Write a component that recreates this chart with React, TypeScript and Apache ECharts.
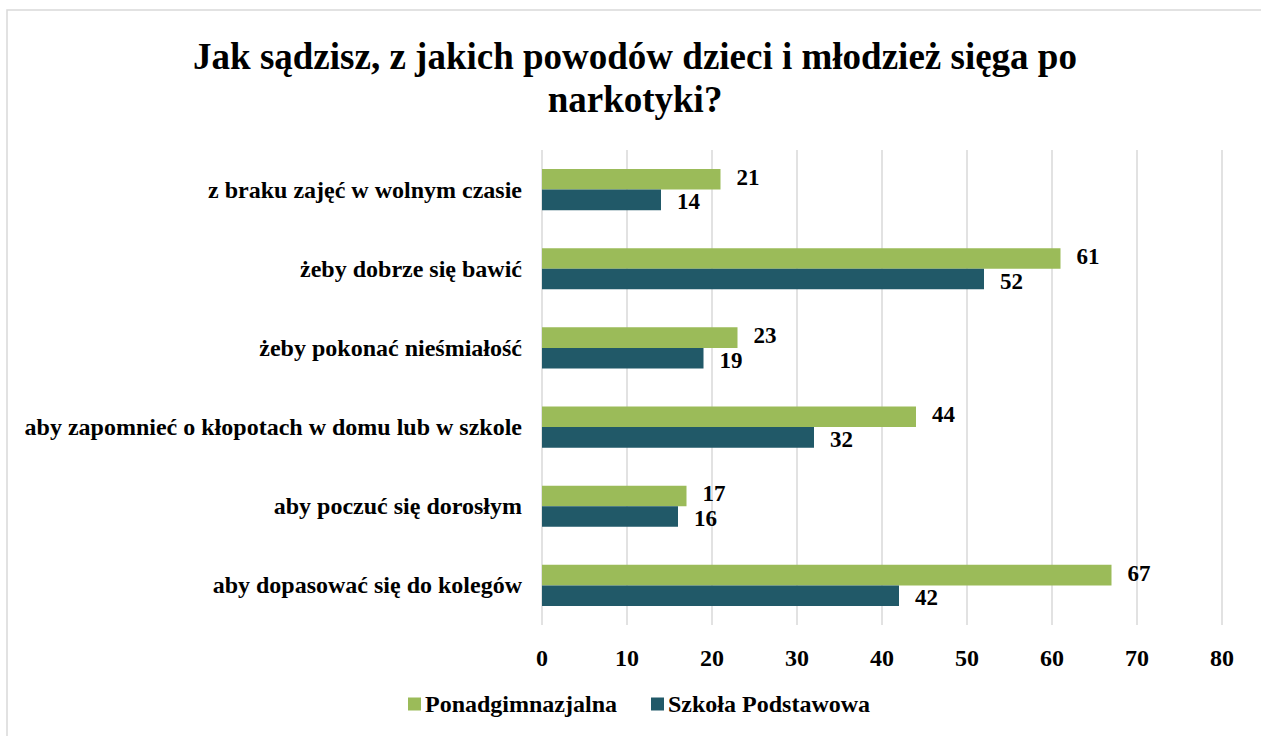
import React, { useEffect, useRef } from "react";
import * as echarts from "echarts";

const categories = [
  "z braku zajęć w wolnym czasie",
  "żeby dobrze się bawić",
  "żeby pokonać nieśmiałość",
  "aby zapomnieć o kłopotach w domu lub w szkole",
  "aby poczuć się dorosłym",
  "aby dopasować się do kolegów",
];
const ponadgimnazjalna = [21, 61, 23, 44, 17, 67];
const szkolaPodstawowa = [14, 52, 19, 32, 16, 42];
const seriesNames = ["Ponadgimnazjalna", "Szkoła Podstawowa"];
const titleText = "Jak sądzisz, z jakich powodów dzieci i młodzież sięga po\nnarkotyki?";

const FONT = "'Liberation Serif', 'Times New Roman', serif";

export default function App() {
  const ref = useRef<HTMLDivElement>(null);
  useEffect(() => {
    const chart = echarts.init(ref.current!, null, { renderer: "svg" });
    const labelStyle = (dy: number) => ({
      show: true,
      position: "right" as const,
      distance: 16,
      offset: [0, dy],
      fontFamily: FONT,
      fontWeight: "bold" as const,
      fontSize: 23,
      lineHeight: 19,
      color: "#000",
    });
    chart.setOption({
      animation: false,
      backgroundColor: "#fff",
      title: {
        text: titleText,
        left: 635,
        textAlign: "center",
        top: 35,
        padding: 0,
        textStyle: {
          fontFamily: FONT,
          fontWeight: "bold",
          fontSize: 37,
          lineHeight: 43,
          color: "#000",
        },
      },
      graphic: [
        {
          type: "rect",
          shape: { x: 7, y: 10, width: 1300, height: 800 },
          style: { fill: "none", stroke: "#d9d9d9", lineWidth: 1.5 },
          silent: true,
        },
      ],
      legend: {
        bottom: 15,
        left: 403,
        itemWidth: 13,
        itemHeight: 13,
        itemGap: 34,
        icon: "rect",
        textStyle: {
          fontFamily: FONT,
          fontWeight: "bold",
          fontSize: 24,
          color: "#000",
          padding: [0, 0, 0, -1],
        },
        data: seriesNames,
      },
      grid: { left: 542, right: 39, top: 150, bottom: 111, containLabel: false },
      xAxis: {
        type: "value",
        min: 0,
        max: 80,
        interval: 10,
        axisLine: { show: false },
        axisTick: { show: false },
        splitLine: { show: true, lineStyle: { color: "#d9d9d9", width: 1.5 } },
        axisLabel: {
          margin: 21,
          fontFamily: FONT,
          fontWeight: "bold",
          fontSize: 24,
          color: "#000",
        },
      },
      yAxis: {
        type: "category",
        data: categories,
        inverse: true,
        axisLine: { show: false },
        axisTick: { show: false },
        axisLabel: {
          margin: 20,
          fontFamily: FONT,
          fontWeight: "bold",
          fontSize: 24,
          color: "#000",
        },
      },
      series: [
        {
          name: seriesNames[0],
          type: "bar",
          data: ponadgimnazjalna,
          barGap: "0%",
          barCategoryGap: "48%",
          itemStyle: { color: "#9BBB59" },
          label: labelStyle(-2),
        },
        {
          name: seriesNames[1],
          type: "bar",
          data: szkolaPodstawowa,
          barGap: "0%",
          barCategoryGap: "48%",
          itemStyle: { color: "#215968" },
          label: labelStyle(2),
        },
      ],
    });
    return () => chart.dispose();
  }, []);
  return (
    <div
      ref={ref}
      style={{ position: "fixed", left: 0, top: 0, width: 1261, height: 736 }}
    />
  );
}
